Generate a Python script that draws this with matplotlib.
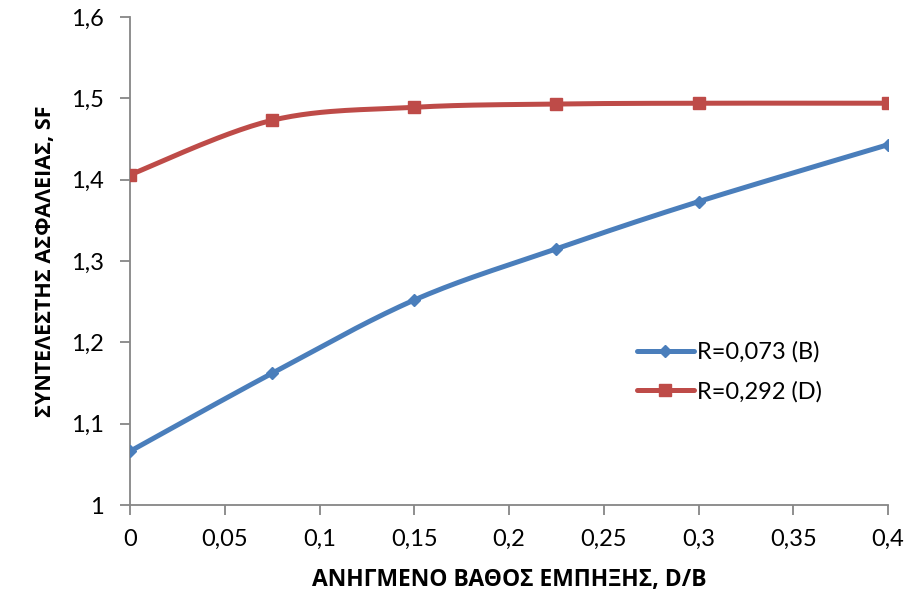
import numpy as np
import matplotlib
matplotlib.use('Agg')
from matplotlib import pyplot as plt
from matplotlib.ticker import FuncFormatter

plt.rcParams['font.family'] = ['Lato', 'Open Sans', 'DejaVu Sans']

# D/B values and safety factors for the two cases
db = [0, 0.075, 0.15, 0.225, 0.3, 0.4]
sf_b = [1.066, 1.162, 1.252, 1.315, 1.373, 1.443]
sf_d = [1.406, 1.473, 1.489, 1.493, 1.494, 1.494]

label_b = 'R=0,073 (B)'
label_d = 'R=0,292 (D)'


def smooth(x, y, n=30):
    # catmull-rom style bezier through the points (like spreadsheet smoothed lines)
    x = np.asarray(x, float)
    y = np.asarray(y, float)
    px = np.concatenate([[x[0]], x, [x[-1]]])
    py = np.concatenate([[y[0]], y, [y[-1]]])
    xs, ys = [], []
    t = np.linspace(0, 1, n)
    for i in range(1, len(px) - 2):
        p0 = np.array([px[i], py[i]])
        p3 = np.array([px[i + 1], py[i + 1]])
        c1 = p0 + (np.array([px[i + 1], py[i + 1]]) - np.array([px[i - 1], py[i - 1]])) / 6
        c2 = p3 - (np.array([px[i + 2], py[i + 2]]) - np.array([px[i], py[i]])) / 6
        b = ((1 - t) ** 3)[:, None] * p0 + (3 * (1 - t) ** 2 * t)[:, None] * c1 \
            + (3 * (1 - t) * t ** 2)[:, None] * c2 + (t ** 3)[:, None] * p3
        xs.extend(b[:, 0])
        ys.extend(b[:, 1])
    return xs, ys


fig = plt.figure(figsize=(9.06, 5.98), dpi=100)
ax = fig.add_axes([130 / 906, 93 / 598, 758 / 906, 488 / 598])

blue = '#4A7EBB'
red = '#BE4B48'

sx, sy = smooth(db, sf_b)
ax.plot(sx, sy, color=blue, lw=3.6, solid_capstyle='round', zorder=3)
ax.plot(db, sf_b, ls='none', marker='D', ms=6.5, color=blue, zorder=4)
sx, sy = smooth(db, sf_d)
ax.plot(sx, sy, color=red, lw=3.6, solid_capstyle='round', zorder=3)
ax.plot(db, sf_d, ls='none', marker='s', ms=8.5, color=red, zorder=4)

# legend handles
ax.plot([], [], color=blue, lw=3.6, marker='D', ms=6.5, solid_capstyle='round', label=label_b)
ax.plot([], [], color=red, lw=3.6, marker='s', ms=8.5, solid_capstyle='round', label=label_d)
ax.legend(loc='upper left', bbox_to_anchor=(0.669, 0.335), frameon=False, fontsize=17,
          handlelength=2.4, handletextpad=0.15, labelspacing=0.75, borderpad=0,
          borderaxespad=0)

ax.set_xlim(0, 0.4)
ax.set_ylim(1, 1.6)
ax.set_xticks(np.arange(0, 0.401, 0.05))
ax.set_yticks(np.arange(1, 1.601, 0.1))

fmt = lambda v, p: ('%g' % round(v, 3)).replace('.', ',')
ax.xaxis.set_major_formatter(FuncFormatter(fmt))
ax.yaxis.set_major_formatter(FuncFormatter(fmt))

for s in ['top', 'right']:
    ax.spines[s].set_visible(False)
for s in ['left', 'bottom']:
    ax.spines[s].set_color('#868686')
    ax.spines[s].set_linewidth(1.3)
ax.tick_params(direction='out', length=7, width=1.3, color='#868686', labelsize=17)
ax.tick_params(axis='y', pad=12)
ax.tick_params(axis='x', pad=10)

# bold axis titles in a family that has a bold greek face
ax.set_xlabel('ΑΝΗΓΜΕΝΟ ΒΑΘΟΣ ΕΜΠΗΞΗΣ, D/B', fontsize=16.5, fontweight='bold',
              family=['Open Sans', 'DejaVu Sans'], labelpad=13)
ax.set_ylabel('ΣΥΝΤΕΛΕΣΤΗΣ ΑΣΦΑΛΕΙΑΣ, SF', fontsize=15.5, fontweight='bold',
              family=['Open Sans', 'DejaVu Sans'], labelpad=10.5)

fig.savefig('out.png', dpi=100)
